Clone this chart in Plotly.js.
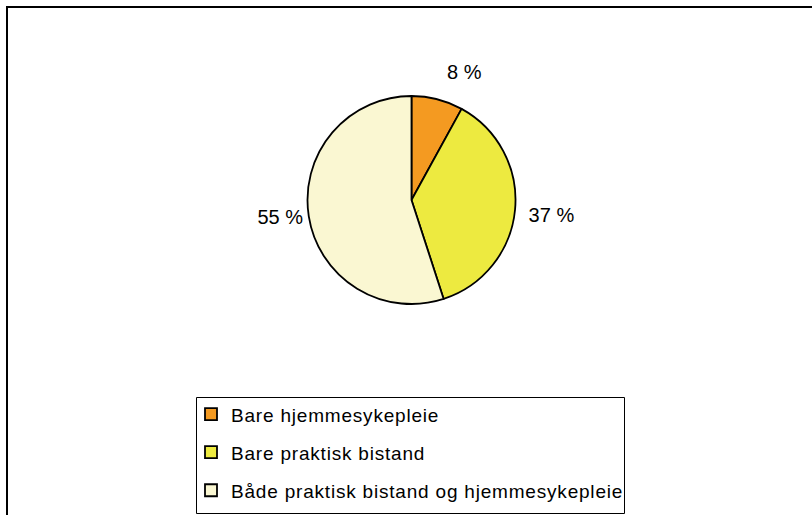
<!DOCTYPE html>
<html>
<head>
<meta charset="utf-8">
<script src="https://cdn.plot.ly/plotly-3.0.1.min.js"></script>
<style>html,body{margin:0;padding:0;background:#fff;}#chart{width:812px;height:515px;}</style>
</head>
<body>
<div id="chart"></div>
<script>
const categories = ["Bare hjemmesykepleie", "Bare praktisk bistand", "Både praktisk bistand og hjemmesykepleie"];
const shares = [8, 37, 55];
const sliceColors = ["#F49A21", "#EDEA40", "#FAF7D2"];

const W = 812, H = 515;
const legendLabels = categories.map(c =>
  '<span style="font-size:19px;letter-spacing:0.8px;baseline-shift:3px">' + c + '</span>');

// label templates (small invisible spacers nudge the outside labels like the original)
const labelTemplates = [
  "%{value} %<span style='baseline-shift:-17px'>\u00A0</span>",
  "\u00A0%{value} %<span style='baseline-shift:10px'>\u00A0</span>",
  "%{value} %"
];

const trace = {
  type: "pie",
  labels: legendLabels,
  values: shares,
  sort: false,
  direction: "clockwise",
  rotation: 0,
  marker: {colors: sliceColors, line: {color: "#000", width: 1.8}},
  textposition: "outside",
  texttemplate: labelTemplates,
  textfont: {family: "Liberation Sans, Arial, sans-serif", size: 20, color: "#000"},
  hoverinfo: "none",
  automargin: false,
  domain: {x: [307/W, 516/W], y: [1 - 304/H, 1 - 96/H]}
};

const layout = {
  width: W, height: H,
  margin: {l: 0, r: 0, t: 0, b: 0, autoexpand: false},
  paper_bgcolor: "#fff",
  font: {family: "Liberation Sans, Arial, sans-serif", color: "#000"},
  showlegend: true,
  legend: {
    x: 191/W, y: 1 - 390/H, xanchor: "left", yanchor: "top",
    borderwidth: 0, bgcolor: "rgba(0,0,0,0)",
    font: {size: 27, family: "Liberation Sans, Arial, sans-serif", color: "#000"},
    itemclick: false, itemdoubleclick: false
  },
  shapes: [
    {
      type: "rect", xref: "paper", yref: "paper",
      x0: 7/W, x1: 1.2, y0: -0.2, y1: 1 - 7/H,
      line: {color: "#000", width: 2}, fillcolor: "rgba(0,0,0,0)", layer: "below"
    },
    {
      type: "rect", xref: "paper", yref: "paper",
      x0: 196.5/W, x1: 624.5/W, y0: 1 - 513.5/H, y1: 1 - 397.5/H,
      line: {color: "#000", width: 1}, fillcolor: "#fff", layer: "below"
    }
  ]
};

Plotly.newPlot("chart", [trace], layout, {staticPlot: true, displayModeBar: false});
</script>
</body>
</html>
